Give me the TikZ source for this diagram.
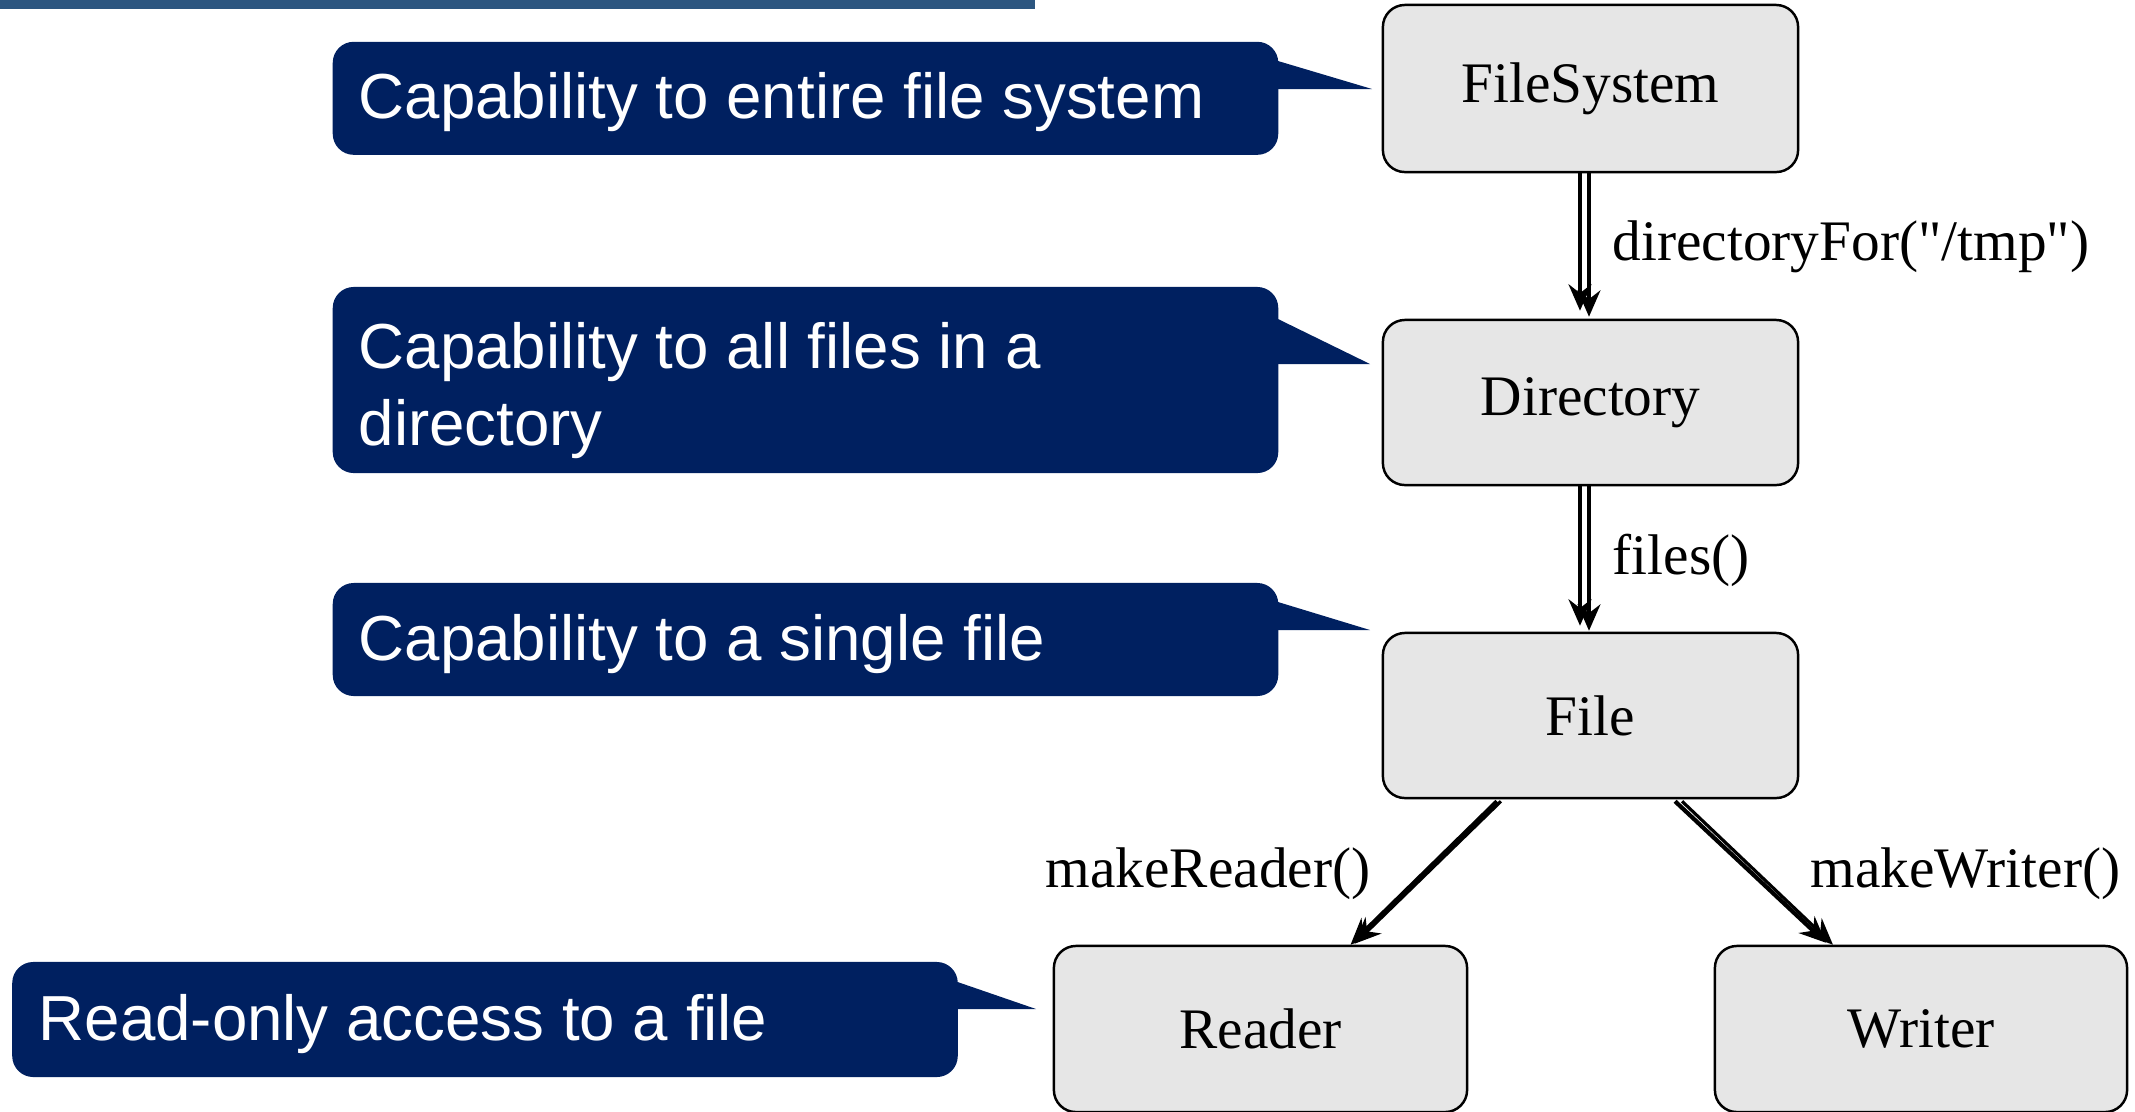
\documentclass[tikz,border=0pt]{standalone}
\usepackage{fontspec}
\setmainfont{Liberation Serif}[Ligatures=TeXOff]
\newfontfamily\calloutfont{Liberation Sans}
\usetikzlibrary{arrows.meta}
\definecolor{navy}{RGB}{0,32,96}
\definecolor{barblue}{RGB}{44,86,128}
\definecolor{boxgray}{RGB}{230,230,230}
\tikzset{
  capbox/.style={draw=black, line width=0.7pt, fill=boxgray, rounded corners=0.22cm,
    minimum width=4.15cm, minimum height=1.65cm, inner sep=0pt,
    font=\fontsize{16.3}{19.6}\selectfont},
  callout/.style={fill=navy, rounded corners=0.21cm, minimum width=9.45cm, inner sep=0pt},
  callouttext/.style={text=white, font=\calloutfont\fontsize{18.1}{21.8}\selectfont,
    align=left, inner sep=0pt, anchor=base west},
  conn/.style={line width=1.2pt, -{Stealth[length=7.5pt,width=6.5pt,inset=2.5pt]}},
  connthin/.style={conn, line width=0.9pt},
  lbl/.style={font=\fontsize{16.3}{19.6}\selectfont, inner sep=0pt, anchor=west},
}
\begin{document}
\begin{tikzpicture}[x=0.01cm,y=-0.01cm]
\useasboundingbox (0,0) rectangle (2135,1111);
\fill[barblue] (0,0) rectangle (1035,8.7);

% callouts
\node[callout, minimum height=1.13cm] (c1) at (805.5,98.3) {};
\fill[navy] (1268,61) -- (1278,61) -- (1372,89) -- (1268,89) -- cycle;
\node[callouttext] (t1) at (358,118.3) {Capability to entire file system};

\node[callout, minimum height=1.86cm] (c2) at (805.5,380) {};
\fill[navy] (1268,319) -- (1278,319) -- (1370,364) -- (1268,364) -- cycle;
\node[callouttext] (t2) at (358,445) {Capability to all files in a\\directory};

\node[callout, minimum height=1.13cm] (c3) at (805.5,639.5) {};
\fill[navy] (1268,602) -- (1278,602) -- (1370,630) -- (1268,630) -- cycle;
\node[callouttext] (t3) at (358,660) {Capability to a single file};

\node[callout, minimum height=1.15cm] (c4) at (485,1019.5) {};
\fill[navy] (947,982) -- (957.6,982) -- (1036,1009) -- (947,1009) -- cycle;
\node[callouttext] (t4) at (38,1040) {Read-only access to a file};

% capability boxes
\node[capbox, minimum height=1.67cm] (fs) at (1590.5,88.5) {FileSystem};
\node[capbox] (dir) at (1590.5,402.5) {Directory};
\node[capbox] (file) at (1590.5,715.5) {File};
\node[capbox, minimum width=4.13cm, minimum height=1.66cm] (rd) at (1260.5,1029) {Reader};
\node[capbox, minimum width=4.12cm, minimum height=1.66cm] (wr) at (1921,1029) {Writer};

% connectors
\draw[conn] ([xshift=-0.105cm]fs.south) -- ([xshift=-0.105cm,yshift=0.08cm]dir.north);
\draw[connthin] ([xshift=-0.015cm]fs.south) -- ([xshift=-0.015cm,yshift=0.02cm]dir.north);

\draw[conn] ([xshift=-0.105cm]dir.south) -- ([xshift=-0.105cm,yshift=0.06cm]file.north);
\draw[connthin] ([xshift=-0.015cm]dir.south) -- ([xshift=-0.015cm,yshift=0.01cm]file.north);

\draw[conn] ([xshift=-0.935cm,yshift=-0.02cm]file.south) -- ([xshift=0.9cm]rd.north);
\draw[connthin] ([xshift=-0.895cm,yshift=-0.02cm]file.south) -- ([xshift=0.94cm,yshift=0.01cm]rd.north);

\draw[conn] ([xshift=0.845cm,yshift=-0.02cm]file.south) -- ([xshift=-0.95cm,yshift=0.02cm]wr.north);
\draw[connthin] ([xshift=0.915cm,yshift=-0.02cm]file.south) -- ([xshift=-0.88cm]wr.north);

% labels
\node[lbl] (l1) at (1612,247) {directoryFor("/tmp")};
\node[lbl] (l2) at (1612,560) {files()};
\node[lbl] (l3) at (1045,874) {makeReader()};
\node[lbl] (l4) at (1810,874) {makeWriter()};
\end{tikzpicture}
\end{document}
